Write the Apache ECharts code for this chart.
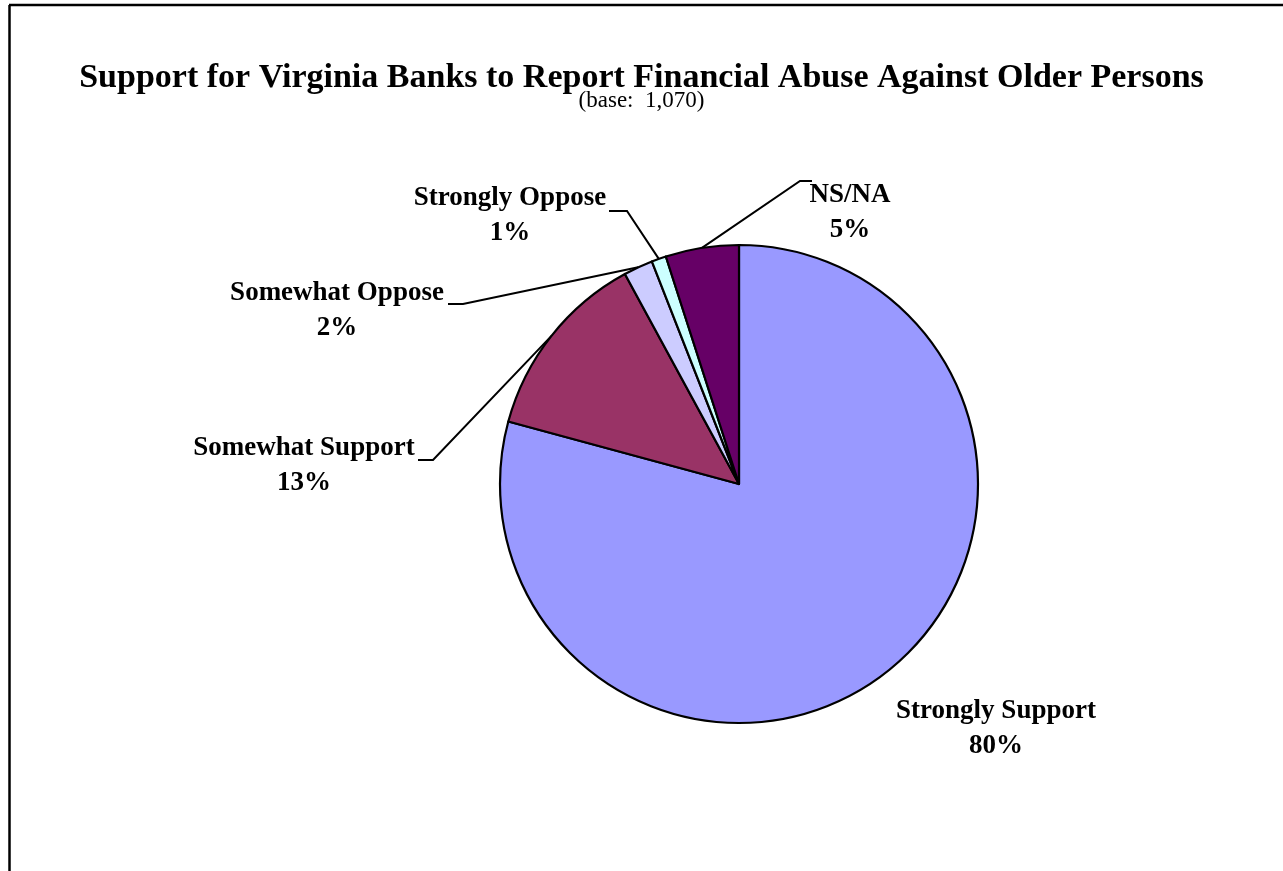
<!DOCTYPE html>
<html>
<head>
<meta charset="utf-8">
<script src="https://cdn.jsdelivr.net/npm/echarts@6/dist/echarts.min.js"></script>
<style>
  html, body { margin: 0; padding: 0; background: #fff; }
  #chart { width: 1283px; height: 871px; }
</style>
</head>
<body>
<div id="chart"></div>
<script>
// Survey answers, in clockwise order from 12 o'clock
const categories = ['Strongly Support', 'Somewhat Support', 'Somewhat Oppose', 'Strongly Oppose', 'NS/NA'];
const shares = [80, 13, 2, 1, 5];
const sliceColors = ['#9999FF', '#993366', '#CCCCFF', '#CCFFFF', '#660066'];

const titleText = 'Support for Virginia Banks to Report Financial Abuse Against Older Persons';
const baseText = '(base:  1,070)';

const serif = "'Liberation Serif', 'Times New Roman', serif";

// Where each label block sits, and the bend + end of its leader line
const labelSpots = [
  { x: 996, y: 729 },
  { x: 304, y: 466, bend: [433, 460], end: [418, 460] },
  { x: 337, y: 311, bend: [463, 304], end: [448, 304] },
  { x: 510, y: 216, bend: [627, 211], end: [609, 211] },
  { x: 850, y: 213, bend: [800, 181], end: [812, 181] }
];

const chart = echarts.init(document.getElementById('chart'), null, { renderer: 'canvas' });

chart.setOption({
  backgroundColor: '#ffffff',
  animation: false,
  title: [
    {
      text: titleText,
      left: 'center',
      top: 56,
      textStyle: { fontFamily: serif, fontSize: 34, fontWeight: 'bold', color: '#000' }
    },
    {
      text: baseText,
      left: 'center',
      top: 84,
      textStyle: { fontFamily: serif, fontSize: 23, fontWeight: 'normal', color: '#000' }
    }
  ],
  graphic: [
    { type: 'line', shape: { x1: 9, y1: 5, x2: 1283, y2: 5 }, style: { stroke: '#000', lineWidth: 2.5 } },
    { type: 'line', shape: { x1: 9.5, y1: 5, x2: 9.5, y2: 871 }, style: { stroke: '#000', lineWidth: 2.5 } }
  ],
  series: [
    {
      type: 'pie',
      center: [739, 484],
      radius: 239,
      startAngle: 90,
      clockwise: true,
      avoidLabelOverlap: false,
      itemStyle: { borderColor: '#000', borderWidth: 2.2 },
      emphasis: { disabled: true },
      label: {
        show: true,
        position: 'outside',
        formatter: p => p.name + '\n' + p.value + '%',
        fontFamily: serif,
        fontSize: 27,
        fontWeight: 'bold',
        color: '#000',
        lineHeight: 35,
        align: 'center'
      },
      labelLine: {
        show: true,
        length: 20,
        length2: 10,
        smooth: false,
        lineStyle: { color: '#000', width: 2 }
      },
      labelLayout: function (params) {
        const spot = labelSpots[params.dataIndex];
        const out = { x: spot.x, y: spot.y, align: 'center', verticalAlign: 'middle' };
        if (spot.bend && params.labelLinePoints) {
          const start = params.labelLinePoints[0];
          out.labelLinePoints = [start, spot.bend, spot.end];
        }
        return out;
      },
      data: categories.map((name, i) => ({
        name: name,
        value: shares[i],
        itemStyle: { color: sliceColors[i] },
        labelLine: { show: i !== 0 }
      }))
    }
  ]
});
</script>
</body>
</html>
